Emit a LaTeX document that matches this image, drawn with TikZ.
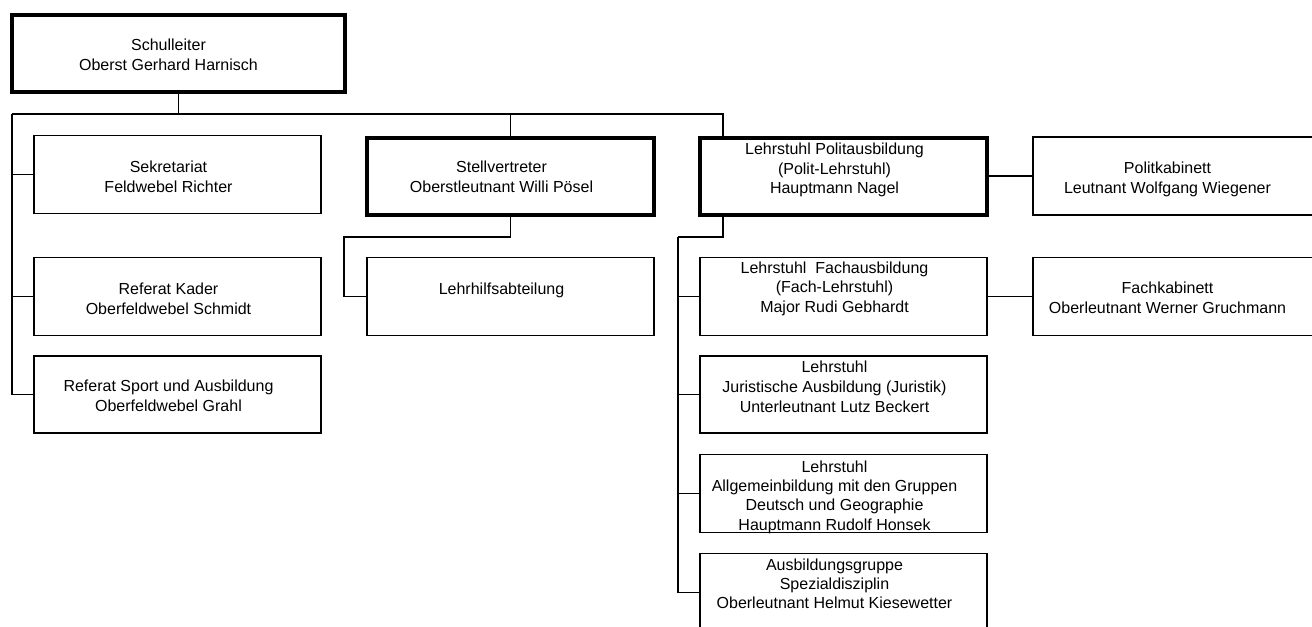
\documentclass[tikz,border=0pt]{standalone}
\usepackage{fontspec}
\setmainfont{Liberation Sans}
\usetikzlibrary{calc}
\tikzset{
  box/.style={draw, line width=1.2pt, rectangle, inner sep=0pt,
    minimum width=215.25pt, minimum height=58.5pt},
  thickbox/.style={box, line width=3pt, minimum height=57.75pt},
  conn/.style={draw, line width=1.2pt},
  txt/.style={anchor=north, inner sep=0pt, align=center,
    font=\fontsize{12}{14.5}\selectfont},
  txttwo/.style={txt, font=\fontsize{12}{15.2}\selectfont}
}
\begin{document}
\begin{tikzpicture}[x=0.75pt, y=-0.75pt]
\clip (0,0) rectangle (1312,626);
\fill[white] (0,0) rectangle (1312,626);

% boxes
\node[thickbox, minimum width=249.75pt] (top) at (178.5,53.5) {};
\node[box] (sek)   at (177.5,174.5) {};
\node[box] (kad)   at (177.5,296.5) {};
\node[box, minimum height=57.75pt] (sport) at (177.5,394.5) {};
\node[thickbox] (stv)   at (510.5,176) {};
\node[box] (lehr)  at (510.5,296.5) {};
\node[thickbox] (pol)   at (843.5,176) {};
\node[box] (polk)  at (1176.5,176) {};
\node[box] (fach)  at (843.5,296.5) {};
\node[box] (fachk) at (1176.5,296.5) {};
\node[box, minimum height=57.75pt] (jur) at (843.5,394.5) {};
\node[box] (allg)  at (843.5,493.5) {};
\node[box] (ausb)  at (843.5,592.5) {};

% texts
\node[txt] (topT)    at ($(top.north)+(-10,26)$) {Schulleiter\\Oberst Gerhard Harnisch};
\node[txttwo] (sekT) at ($(sek.north)+(-9,25.5)$) {Sekretariat\\Feldwebel Richter};
\node[txttwo] (kadT) at ($(kad.north)+(-9,25.5)$) {Referat Kader\\Oberfeldwebel Schmidt};
\node[txttwo] (sportT) at ($(sport.north)+(-9,24.5)$) {Referat Sport und Ausbildung\\Oberfeldwebel Grahl};
\node[txttwo] (stvT) at ($(stv.north)+(-9,25)$) {Stellvertreter\\Oberstleutnant Willi Pösel};
\node[txt] (lehrT)   at ($(lehr.north)+(-9,25.5)$) {Lehrhilfsabteilung};
\node[txt] (polT)    at ($(pol.north)+(-9,7.5)$) {Lehrstuhl Politausbildung\\(Polit-Lehrstuhl)\\Hauptmann Nagel};
\node[txttwo] (polkT) at ($(polk.north)+(-9,25)$) {Politkabinett\\Leutnant Wolfgang Wiegener};
\node[txt] (fachT)   at ($(fach.north)+(-9,5)$) {Lehrstuhl\ \ Fachausbildung\\(Fach-Lehrstuhl)\\Major Rudi Gebhardt};
\node[txttwo] (fachkT) at ($(fachk.north)+(-9,25)$) {Fachkabinett\\Oberleutnant Werner Gruchmann};
\node[txt, font=\fontsize{12}{15.2}\selectfont] (jurT) at ($(jur.north)+(-9,5)$) {Lehrstuhl\\Juristische Ausbildung (Juristik)\\Unterleutnant Lutz Beckert};
\node[txt] (allgT)   at ($(allg.north)+(-9,6.5)$) {Lehrstuhl\\Allgemeinbildung mit den Gruppen\\Deutsch und Geographie\\Hauptmann Rudolf Honsek};
\node[txt] (ausbT)   at ($(ausb.north)+(-9,5.5)$) {Ausbildungsgruppe\\Spezialdisziplin\\Oberleutnant Helmut Kiesewetter};

% connectors
\coordinate (busL) at (12,114);
\coordinate (busR) at (723,114);
\coordinate (sJ) at (344,237);
\coordinate (pJ) at (678,237);

\draw[conn] (top.south) -- (top.south |- busL);
\draw[conn] (busL) -- (busR) -- (busR |- pol.north);
\draw[conn] (stv.north) -- (stv.north |- busL);
\draw[conn] (busL) |- (sek.west);
\draw[conn] (busL) |- (kad.west);
\draw[conn] (busL) |- (sport.west);
\draw[conn] (stv.south) |- (sJ) |- (lehr.west);
\draw[conn] (busR |- pol.south) |- (pJ);
\draw[conn] (pJ) |- (fach.west);
\draw[conn] (pJ) |- (jur.west);
\draw[conn] (pJ) |- (allg.west);
\draw[conn] (pJ) |- (ausb.west);
\draw[conn] (pol.east) -- (polk.west);
\draw[conn] (fach.east) -- (fachk.west);
\end{tikzpicture}
\end{document}
